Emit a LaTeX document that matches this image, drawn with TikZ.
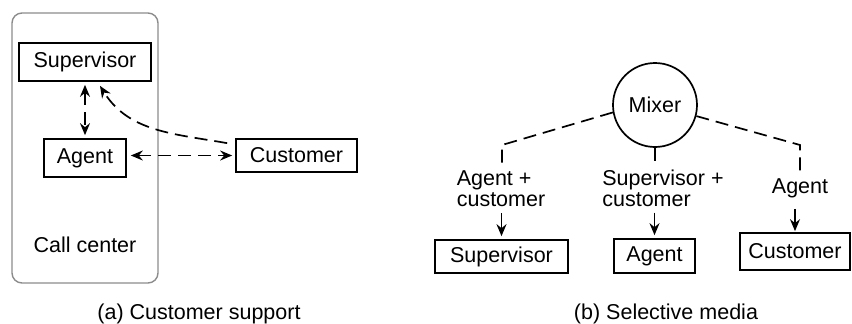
\documentclass[tikz,border=0pt]{standalone}
\usepackage{fontspec}
\setmainfont{Liberation Sans}
\usetikzlibrary{arrows.meta,calc}
\begin{document}
\begin{tikzpicture}[x=1pt,y=-1pt,
  font=\fontsize{21.5}{21}\selectfont,
  every node/.style={inner sep=0pt},
  box/.style={draw,line width=1.7pt,minimum height=#1},
  box/.default=38pt,
  dsh/.style={line width=1.7pt,dash pattern=on 13pt off 7pt},
  arrowtip/.tip={Stealth[length=12pt,width=10pt,inset=4pt]},
  tip/.style={-arrowtip,line width=1.7pt},
  tips/.style={arrowtip-arrowtip,line width=1.7pt}]
\useasboundingbox (0,0) rectangle (852,324);

% ---- (a) customer support ----
\draw[line width=1.4pt,draw=black!45,rounded corners=10pt] (12,13) rectangle (158,283);
\node[box,minimum width=132pt] (sup) at (85,62) {Supervisor};
\node[box,minimum width=82pt] (agent) at (85,158) {Agent};
\node[box=33pt,minimum width=121pt] (cust) at (296.5,155.5) {Customer};
\node (cc) at (85,245) {Call center};

\draw[tips,dsh,shorten <=3pt,shorten >=3pt] (sup.south) -- (agent.north);
\draw[tips,dsh,shorten <=4pt,shorten >=3pt] (agent.east |- cust.west) -- (cust.west);
\draw[tip,dsh] ($(cust.north west)+(-8,5)$) to[out=170,in=-58] ($(sup.south)+(15,4)$);

\node[anchor=base] (capa) at (199,319) {(a) Customer support};

% ---- (b) selective media ----
\node[draw,circle,line width=1.7pt,minimum size=84pt] (mixer) at (655,105) {Mixer};

\node[box=33pt,minimum width=133pt] (sup2) at (501.5,256.5) {Supervisor};
\node[box=34pt,minimum width=81pt] (agent2) at (654.5,256) {Agent};
\node[box=37pt,minimum width=110pt] (cust2) at (795,251.5) {Customer};

\node[align=left] (l1) at (501,189) {Agent +\\customer};
\node[align=left] (l2) at (663,188) {Supervisor +\\customer};
\node (l3) at (800,188) {Agent};

\coordinate (k1) at (502,145);
\coordinate (k3) at (800,145);
\draw[dsh,shorten >=6pt] (mixer.190) -- (k1) -- (k1 |- l1.north);
\draw[dsh] (mixer.south) -- ([yshift=-13pt]mixer.south);
\draw[dsh,shorten >=3pt] (mixer.-15) -- (k3) -- (k3 |- l3.north);

\draw[tip,shorten <=6pt,shorten >=3pt] (l1.south -| sup2.north) -- (sup2.north);
\draw[tip,shorten <=6pt,shorten >=3pt] (l2.south -| agent2.north) -- (agent2.north);
\draw[tip,shorten <=11pt,shorten >=1pt] (l3.south -| cust2.north) -- (cust2.north);

\node[anchor=base] (capb) at (666,319) {(b) Selective media};
\end{tikzpicture}
\end{document}
